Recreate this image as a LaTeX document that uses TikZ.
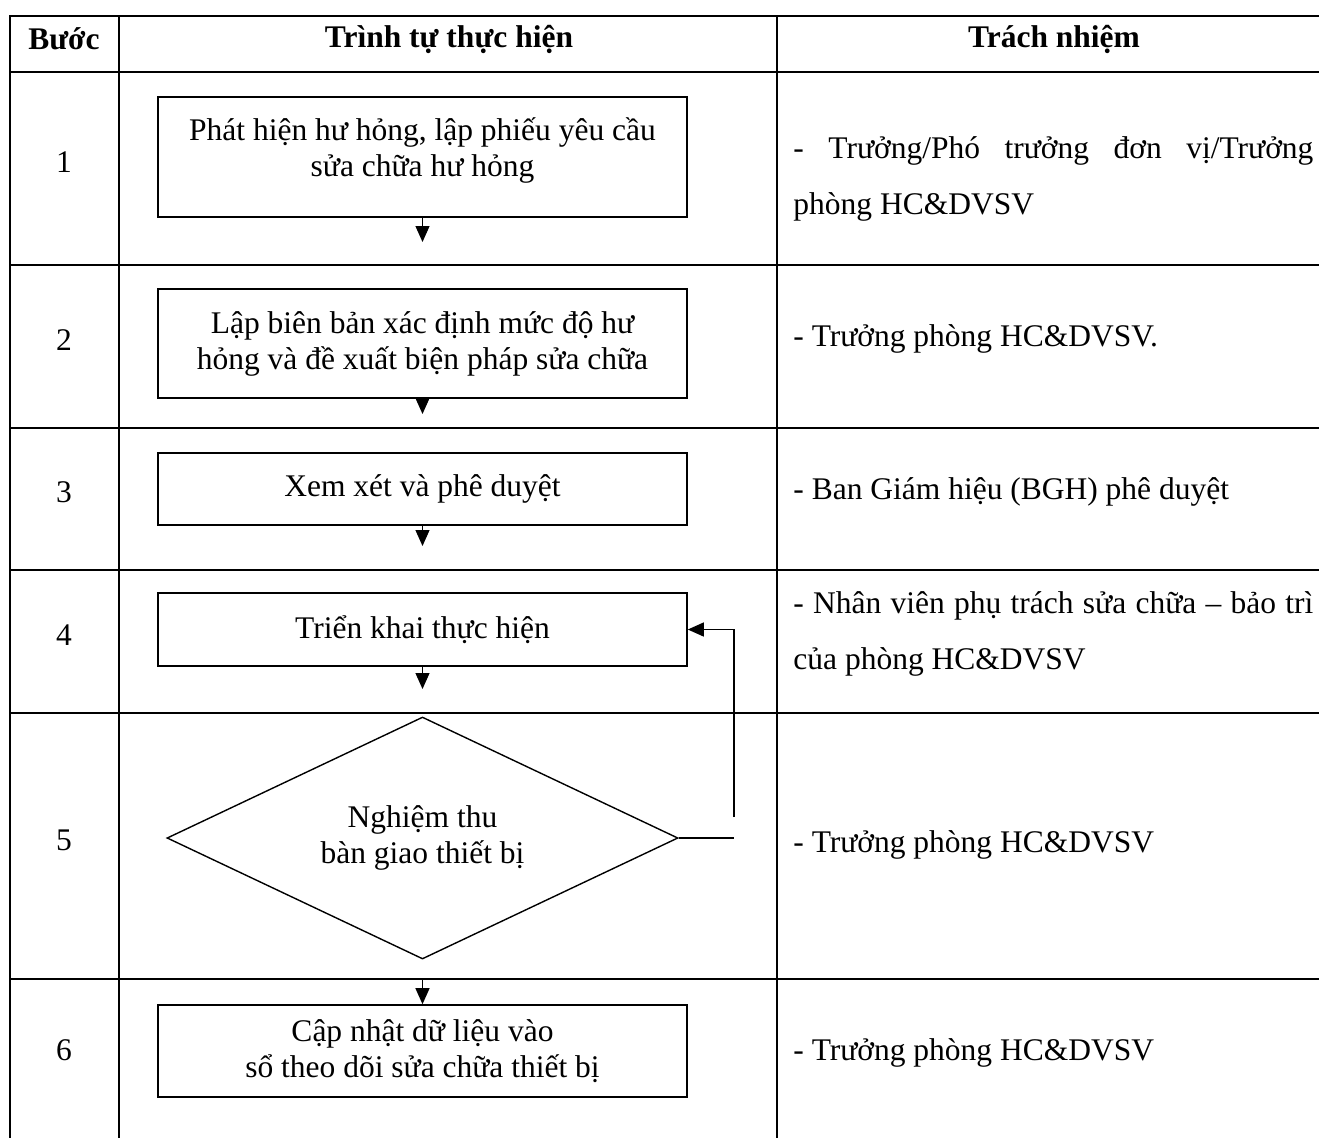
\documentclass[tikz,border=0pt]{standalone}
\usepackage{fontspec}
\setmainfont{Liberation Serif}
\usetikzlibrary{arrows.meta, shapes.geometric}

\begin{document}
\begin{tikzpicture}[
  x=0.5pt, y=-0.5pt,
  font=\fontsize{15.75}{18}\selectfont,
  tabline/.style={line width=1.1pt, draw=black, line cap=rect},
  headtxt/.style={font=\fontsize{15.75}{18}\selectfont\bfseries, inner sep=0pt},
  numtxt/.style={inner sep=0pt},
  stepbox/.style={draw=black, line width=0.8pt, align=center,
    minimum width=264.5pt, inner sep=0pt},
  checkbox/.style={diamond, draw=black, line width=0.7pt, align=center,
    aspect=2.1, minimum width=255.5pt, minimum height=121pt, inner sep=0pt},
  steptxt/.style={align=center, inner sep=0pt},
  resp/.style={anchor=west, align=left, inner sep=0pt,
    font=\fontsize{15.75}{28}\selectfont},
  flowarrow/.style={-{Triangle[length=8pt, width=7pt]}, line width=0.6pt},
  loopline/.style={line width=0.6pt}
]
\useasboundingbox (0,0) rectangle (1319,1137);

% --- table grid ---
\foreach \yy in {16,72,265,428,570,713,979}
  \draw[tabline] (10,\yy) -- (1319,\yy);
\foreach \xx in {10,119,777}
  \draw[tabline] (\xx,16) -- (\xx,1137);

% --- header row ---
\node[headtxt] (hstep) at (64,39)   {Bước};
\node[headtxt] (hflow) at (449,39)  {Trình tự thực hiện};
\node[headtxt] (hresp) at (1054,39) {Trách nhiệm};

% --- step numbers ---
\foreach \n/\yy in {1/162,2/340,3/492,4/635,5/840,6/1050}
  \node[numtxt] (n\n) at (64,\yy) {\n};

% --- flow: boxes and the check ---
\node[stepbox, minimum height=60pt] (b1) at (422.5,157) {};
\node[steptxt] (t1) at (422.5,150)
  {Phát hiện hư hỏng, lập phiếu yêu cầu\\sửa chữa hư hỏng};
\node[stepbox, minimum height=54.5pt] (b2) at (422.5,343.5)
  {Lập biên bản xác định mức độ hư\\hỏng và đề xuất biện pháp sửa chữa};
\node[stepbox, minimum height=36pt] (b3) at (422.5,489) {Xem xét và phê duyệt};
\node[stepbox, minimum height=36.5pt] (b4) at (422.5,629.5) {Triển khai thực hiện};
\node[checkbox] (d5) at (422.5,838) {Nghiệm thu\\bàn giao thiết bị};
\node[stepbox, minimum height=46pt] (b6) at (422.5,1051)
  {Cập nhật dữ liệu vào\\sổ theo dõi sửa chữa thiết bị};

% short arrows under each box
\coordinate (e1) at (422.5,242);
\coordinate (e2) at (422.5,414);
\coordinate (e3) at (422.5,546);
\coordinate (e4) at (422.5,689);
\coordinate (s6) at (422.5,980);
\draw[flowarrow] (b1.south) -- (e1);
\draw[flowarrow] (b2.south) -- (e2);
\draw[flowarrow] (b3.south) -- (e3);
\draw[flowarrow] (b4.south) -- (e4);
\draw[flowarrow] (s6) -- (b6.north);

% loop back from the check to step 4
\coordinate (k1) at (734,838);
\coordinate (k2) at (734,817);
\draw[loopline] (d5.east) -- (k1);
\draw[flowarrow] (k2) |- (b4.east);

% --- responsibilities ---
\node[resp] (r1) at (793,179)
  {\makebox[260pt][s]{- Trưởng/Phó trưởng đơn vị/Trưởng}\\phòng HC\&DVSV};
\node[resp] (r2) at (793,339) {- Trưởng phòng HC\&DVSV.};
\node[resp] (r3) at (793,492) {- Ban Giám hiệu (BGH) phê duyệt};
\node[resp] (r4) at (793,634)
  {\makebox[260pt][s]{- Nhân viên phụ trách sửa chữa – bảo trì}\\của phòng HC\&DVSV};
\node[resp] (r5) at (793,845) {- Trưởng phòng HC\&DVSV};
\node[resp] (r6) at (793,1053) {- Trưởng phòng HC\&DVSV};

\end{tikzpicture}
\end{document}
